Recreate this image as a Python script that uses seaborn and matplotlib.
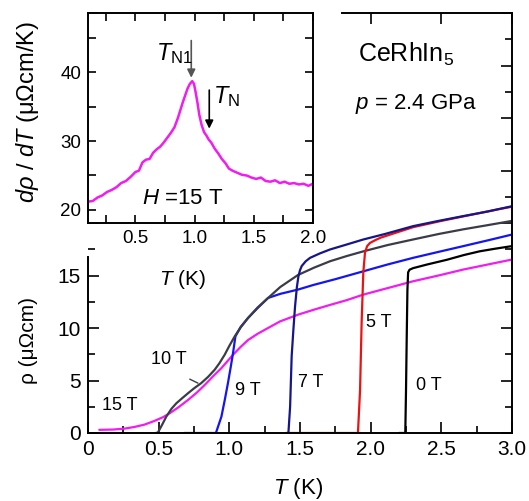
import numpy as np
import pandas as pd
import matplotlib
matplotlib.use("Agg")
import matplotlib.pyplot as plt
from matplotlib.ticker import MultipleLocator, FuncFormatter
import seaborn as sns

# ---- resistivity rho(T) of CeRhIn5 at p = 2.4 GPa for several fields ----
T_0T = [2.20, 2.245, 2.250, 2.255, 2.260, 2.265, 2.275, 2.30, 2.40, 2.54, 2.66, 2.77, 2.88, 3.00]
rho_0T = [0.0, 0.0, 4.0, 9.0, 13.6, 15.3, 15.55, 15.7, 16.05, 16.5, 16.95, 17.3, 17.55, 17.8]

T_5T = [1.41, 1.91, 1.925, 1.936, 1.948, 1.96, 1.975, 1.995, 2.03, 2.07, 2.15, 2.30, 2.50, 2.70, 2.90, 3.00]
rho_5T = [0.0, 0.0, 4.1, 10.5, 15.3, 17.2, 17.8, 18.1, 18.35, 18.6, 18.95, 19.6, 20.2, 20.75, 21.3, 21.55]

T_7T = [1.40, 1.418, 1.43, 1.441, 1.453, 1.465, 1.478, 1.489, 1.50, 1.512, 1.54, 1.571, 1.64,
        1.713, 1.83, 1.948, 2.10, 2.30, 2.48, 2.656, 2.83, 3.00]
rho_7T = [0.0, 0.0, 2.5, 7.3, 9.8, 12.06, 13.9, 14.93, 15.5, 15.9, 16.35, 16.68, 17.1,
          17.48, 17.95, 18.43, 18.95, 19.7, 20.2, 20.66, 21.1, 21.6]

T_9T = [0.68, 0.905, 0.92, 0.944, 0.967, 0.99, 1.01, 1.026, 1.043, 1.08, 1.132, 1.20, 1.274,
        1.36, 1.486, 1.595, 1.75, 1.948, 2.12, 2.30, 2.48, 2.656, 2.83, 3.00]
rho_9T = [0.0, 0.0, 0.6, 1.56, 3.1, 4.74, 6.3, 7.6, 9.2, 10.1, 10.95, 11.9, 12.86,
          13.25, 13.66, 14.1, 14.65, 15.4, 16.05, 16.68, 17.25, 17.8, 18.35, 18.9]

T_10T = [0.48, 0.495, 0.525, 0.554, 0.59, 0.625, 0.665, 0.708, 0.75, 0.80, 0.85, 0.896, 0.93,
         0.967, 1.0, 1.038, 1.08, 1.132, 1.20, 1.274, 1.36, 1.486, 1.60, 1.713, 1.83, 1.948,
         2.12, 2.30, 2.48, 2.656, 2.83, 3.00]
rho_10T = [0.0, 0.05, 0.8, 1.56, 2.3, 2.83, 3.3, 3.79, 4.25, 4.74, 5.35, 6.02, 6.65,
           7.45, 8.3, 9.2, 10.05, 10.95, 11.95, 12.86, 13.9, 15.05, 15.75, 16.36, 16.85, 17.3,
           17.9, 18.43, 18.95, 19.4, 19.8, 20.2]

T_15T = [0.08, 0.18, 0.26, 0.33, 0.40, 0.47, 0.53, 0.578, 0.64, 0.708, 0.77, 0.826, 0.885,
         0.944, 1.026, 1.08, 1.132, 1.20, 1.274, 1.359, 1.486, 1.60, 1.713, 1.83, 1.948, 2.12,
         2.30, 2.48, 2.656, 2.83, 3.00]
rho_15T = [0.3, 0.33, 0.42, 0.58, 0.8, 1.15, 1.5, 1.88, 2.45, 3.15, 3.85, 4.58, 5.4,
           6.18, 7.45, 8.2, 8.85, 9.45, 10.0, 10.63, 11.27, 11.75, 12.2, 12.65, 13.18, 13.8,
           14.45, 15.0, 15.57, 16.05, 16.52]

# ---- derivative drho/dT at H = 15 T (inset) ----
T_inset = [0.10, 0.14, 0.18, 0.22, 0.26, 0.30, 0.34, 0.38, 0.42, 0.46,
           0.50, 0.53, 0.56, 0.59, 0.62, 0.65, 0.68, 0.71, 0.74, 0.77,
           0.80, 0.83, 0.86, 0.88, 0.90, 0.92, 0.94, 0.96, 0.98, 0.995,
           1.01, 1.025, 1.04, 1.06, 1.08, 1.10, 1.12, 1.14, 1.17, 1.20,
           1.23, 1.26, 1.29, 1.32, 1.36, 1.40, 1.44, 1.48, 1.52, 1.56,
           1.60, 1.64, 1.68, 1.72, 1.76, 1.80, 1.84, 1.88, 1.92, 1.96, 2.00]
drho_inset = [21.2, 21.3, 21.8, 22.1, 22.6, 22.9, 23.3, 23.9, 24.2, 24.8,
              25.5, 25.7, 26.9, 27.3, 27.4, 28.3, 28.8, 29.2, 29.8, 30.5,
              31.2, 32.0, 33.4, 34.5, 35.6, 36.6, 37.6, 38.3, 38.7, 38.3,
              37.0, 35.5, 33.8, 32.3, 31.3, 30.8, 30.2, 29.8, 28.9, 28.2,
              27.4, 26.8, 26.0, 25.7, 25.4, 25.1, 25.0, 24.7, 24.5, 24.7,
              24.2, 24.1, 24.3, 23.9, 24.1, 23.8, 23.9, 23.7, 23.8, 23.5, 23.8]

# transition markers in the inset
T_N1, T_N = 0.972, 1.124

fields = ["0 T", "5 T", "7 T", "9 T", "10 T", "15 T"]
curves = {
    "0 T": (T_0T, rho_0T),
    "5 T": (T_5T, rho_5T),
    "7 T": (T_7T, rho_7T),
    "9 T": (T_9T, rho_9T),
    "10 T": (T_10T, rho_10T),
    "15 T": (T_15T, rho_15T),
}
colors = {
    "0 T": "#000000",
    "5 T": "#ee1111",
    "7 T": "#16168a",
    "9 T": "#1515f0",
    "10 T": "#3c3c48",
    "15 T": "#f01cf0",
}
# curve label positions (T, rho)
label_pos = {
    "0 T": (2.41, 4.5),
    "5 T": (2.06, 10.55),
    "7 T": (1.575, 4.8),
    "9 T": (1.13, 4.05),
    "10 T": (0.57, 7.0),
    "15 T": (0.225, 2.65),
}

frames = []
for f in fields:
    t, r = curves[f]
    frames.append(pd.DataFrame({"T": t, "rho": r, "field": f}))
df = pd.concat(frames, ignore_index=True)
df_in = pd.DataFrame({"T": T_inset, "drho": drho_inset})

sns.set_style("ticks")
plt.rcParams["font.family"] = ["Liberation Sans", "DejaVu Sans"]
plt.rcParams["mathtext.fontset"] = "custom"
plt.rcParams["mathtext.rm"] = "Liberation Sans"
plt.rcParams["mathtext.it"] = "Liberation Sans:italic"
plt.rcParams["mathtext.bf"] = "Liberation Sans:bold"
for key in ["text.color", "axes.labelcolor", "xtick.color", "ytick.color", "axes.edgecolor"]:
    plt.rcParams[key] = "black"

W, H = 529, 501
fig = plt.figure(figsize=(W / 100, H / 100), dpi=100)

# ---------------- main panel ----------------
ax = fig.add_axes([88 / W, (H - 433) / H, (512 - 88) / W, (433 - 13) / H])
draw_order = ["15 T", "0 T", "9 T", "10 T", "5 T", "7 T"]
for f in draw_order:
    sub = df[df["field"] == f]
    sns.lineplot(data=sub, x="T", y="rho", color=colors[f], lw=1.6, sort=False,
                 estimator=None, ax=ax, legend=False)

ax.set_xlim(0, 3.0)
ax.set_ylim(0, 40)
ax.xaxis.set_major_locator(MultipleLocator(0.5))
ax.xaxis.set_minor_locator(MultipleLocator(0.25))
ax.set_yticks(np.arange(0, 40.1, 5))
ax.set_yticks(np.arange(2.5, 40, 5), minor=True)
ax.xaxis.set_major_formatter(FuncFormatter(lambda v, p: "0" if abs(v) < 1e-9 else f"{v:.1f}"))
ax.yaxis.set_major_formatter(FuncFormatter(lambda v, p: f"{v:g}" if v <= 15 else ""))
ax.tick_params(which="both", direction="in", top=True, right=True, width=1.2,
               color="black", labelcolor="black", labelsize=15, pad=5)
ax.tick_params(which="major", length=8)
ax.tick_params(which="minor", length=5)

for s in ax.spines.values():
    s.set_linewidth(1.4)
    s.set_color("black")
ax.spines["left"].set_bounds(0, 16.8)
ax.spines["top"].set_bounds(1.8, 3.0)

# ticks hidden where the inset sits
for tk in ax.yaxis.get_major_ticks() + ax.yaxis.get_minor_ticks():
    if tk.get_loc() > 16.8:
        tk.tick1line.set_visible(False)
for tk in ax.xaxis.get_major_ticks() + ax.xaxis.get_minor_ticks():
    if tk.get_loc() < 1.8:
        tk.tick2line.set_visible(False)

ax.set_xlabel(r"$T$ (K)", fontsize=16)
ax.xaxis.set_label_coords(0.495, -0.103)
ax.set_ylabel("ρ (μΩcm)", fontsize=15)
ax.yaxis.set_label_coords(-0.118, 0.221)

for f in fields:
    x, y = label_pos[f]
    ax.text(x, y, f, fontsize=13, ha="center", va="center")
# short pointer from the 10 T label to its curve
ax.plot([0.72, 0.778], [5.13, 4.75], color="#3c3c48", lw=1.0)

ax.text(1.91, 35.4, r"CeRhIn$_{5}$", fontsize=18, ha="left", va="baseline")
ax.text(1.89, 30.85, r"$p$ = 2.4 GPa", fontsize=16, ha="left", va="baseline")

# ---------------- inset ----------------
axi = fig.add_axes([88 / W, (H - 223) / H, (313 - 88) / W, (223 - 13) / H],
                   facecolor="white", zorder=3)
sns.lineplot(data=df_in, x="T", y="drho", color="#f01cf0", lw=1.8, sort=False,
             estimator=None, ax=axi, legend=False)
axi.set_xlim(0.1, 2.0)
axi.set_ylim(18.1, 48.6)
axi.xaxis.set_major_locator(MultipleLocator(0.5))
axi.xaxis.set_minor_locator(MultipleLocator(0.25))
axi.yaxis.set_major_locator(MultipleLocator(10))
axi.yaxis.set_minor_locator(MultipleLocator(5))
axi.tick_params(which="both", direction="in", top=True, right=True, width=1.2,
                length=6, color="black", labelcolor="black", labelsize=13.5, pad=5)
for s in axi.spines.values():
    s.set_linewidth(1.4)
    s.set_color("black")

axi.set_xlabel(r"$T$ (K)", fontsize=15)
axi.xaxis.set_label_coords(0.418, -0.214)
axi.set_ylabel(r"$d\rho$ / $dT$ (μΩcm/K)", fontsize=17)
axi.yaxis.set_label_coords(-0.21, 0.53)

axi.annotate("", xy=(T_N1, 39.2), xytext=(T_N1, 44.6),
             arrowprops=dict(arrowstyle="-|>", color="#555555", lw=1.2,
                             mutation_scale=12, shrinkA=0, shrinkB=0))
axi.annotate("", xy=(T_N, 31.8), xytext=(T_N, 37.4),
             arrowprops=dict(arrowstyle="-|>", color="black", lw=1.2,
                             mutation_scale=12, shrinkA=0, shrinkB=0))
axi.text(0.826, 41.7, r"$T_{\rm N1}$", fontsize=17, ha="center", va="baseline")
axi.text(1.27, 35.5, r"$T_{\rm N}$", fontsize=17, ha="center", va="baseline")
axi.text(0.56, 20.87, r"$H$ =15 T", fontsize=16, ha="left", va="baseline")

fig.savefig("out.png", dpi=100)
